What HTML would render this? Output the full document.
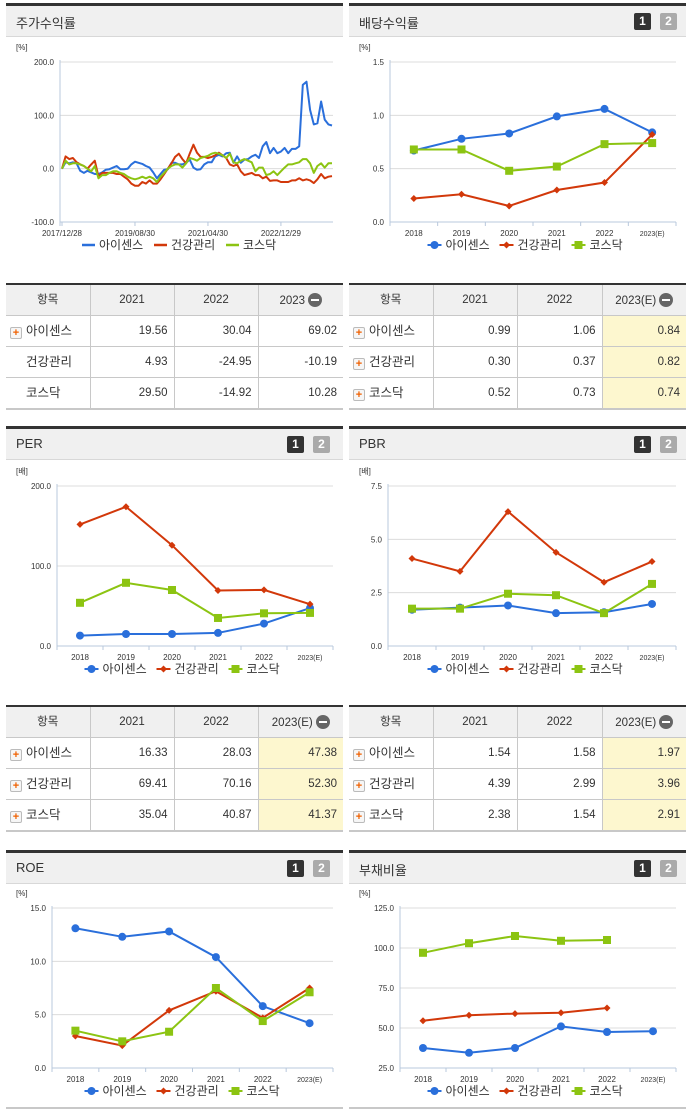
<!DOCTYPE html>
<html><head><meta charset="utf-8">
<style>
body{margin:0;width:691px;height:1115px;background:#fff;position:relative;overflow:hidden;font-family:"Liberation Sans","Noto Sans CJK KR",sans-serif;}
.hdr{position:absolute;height:30px;border-top:3px solid #333;background:#f0f0f0;border-bottom:1px solid #d8d8d8;box-sizing:content-box}
.hdr .t{position:absolute;left:10px;top:7px;font-size:13px;color:#333}
.ib{position:absolute;top:7px;width:17px;height:17px;font-size:12px;font-weight:bold;color:#fff;text-align:center;line-height:17px;border-radius:2px}
table{position:absolute;border-collapse:collapse;font-size:11.5px;color:#333;table-layout:fixed}
table{border-top:2px solid #333;border-bottom:2px solid #c8c8c8}
th{background:#f0f0f0;font-weight:normal;height:30px;padding:0;line-height:14px;border-right:1px solid #c8c8c8;border-bottom:1px solid #c8c8c8}
td{height:30px;padding:0 6px 0 0;line-height:14px;border-right:1px solid #c8c8c8;border-bottom:1px solid #c8c8c8;text-align:right}
tr{height:31px}
th:last-child,td:last-child{border-right:none}
td.n{text-align:left;padding-left:4px;font-size:12.5px}
td.y{background:#fdf7cf}
.pl{display:inline-block;width:10px;height:10px;border:1px solid #bbb;background:#f6f6f6;color:#f06000;font-size:11px;line-height:10px;text-align:center;font-weight:bold;vertical-align:-1px;margin-right:4px;border-radius:2px}
.mi{display:inline-block;width:14px;height:14px;border-radius:7px;background:#666;vertical-align:-3px;margin-left:3px;position:relative}
.mi:after{content:"";position:absolute;left:3px;top:6px;width:8px;height:2px;background:#fff}
</style></head>
<body>
<svg id="cv" width="691" height="1115" style="position:absolute;left:0;top:0"></svg>

<div class="hdr" style="left:6px;top:3px;width:337px"><span class="t">주가수익률</span></div>
<div class="hdr" style="left:349px;top:3px;width:337px"><span class="t">배당수익률</span>
<span class="ib" style="left:285px;background:#333">1</span><span class="ib" style="left:311px;background:#aaa">2</span></div>

<div class="hdr" style="left:6px;top:426px;width:337px"><span class="t">PER</span>
<span class="ib" style="left:281px;background:#333">1</span><span class="ib" style="left:307px;background:#aaa">2</span></div>
<div class="hdr" style="left:349px;top:426px;width:337px"><span class="t">PBR</span>
<span class="ib" style="left:285px;background:#333">1</span><span class="ib" style="left:311px;background:#aaa">2</span></div>

<div class="hdr" style="left:6px;top:850px;width:337px"><span class="t">ROE</span>
<span class="ib" style="left:281px;background:#333">1</span><span class="ib" style="left:307px;background:#aaa">2</span></div>
<div class="hdr" style="left:349px;top:850px;width:337px"><span class="t">부채비율</span>
<span class="ib" style="left:285px;background:#333">1</span><span class="ib" style="left:311px;background:#aaa">2</span></div>
<div style="position:absolute;left:349px;top:1107px;width:337px;height:2px;background:#c8c8c8"></div>
<div style="position:absolute;left:6px;top:1107px;width:337px;height:2px;background:#c8c8c8"></div>

<table style="left:6px;top:283px;width:337px">
<colgroup><col style="width:84px"><col style="width:84px"><col style="width:84px"><col></colgroup>
<tr><th>항목</th><th>2021</th><th>2022</th><th>2023<span class="mi"></span></th></tr>
<tr><td class="n"><span class="pl">+</span>아이센스</td><td>19.56</td><td>30.04</td><td>69.02</td></tr>
<tr><td class="n" style="padding-left:20px">건강관리</td><td>4.93</td><td>-24.95</td><td>-10.19</td></tr>
<tr><td class="n" style="padding-left:20px">코스닥</td><td>29.50</td><td>-14.92</td><td>10.28</td></tr>
</table>
<table style="left:349px;top:283px;width:337px">
<colgroup><col style="width:84px"><col style="width:84px"><col style="width:85px"><col></colgroup>
<tr><th>항목</th><th>2021</th><th>2022</th><th>2023(E)<span class="mi"></span></th></tr>
<tr><td class="n"><span class="pl">+</span>아이센스</td><td>0.99</td><td>1.06</td><td class="y">0.84</td></tr>
<tr><td class="n"><span class="pl">+</span>건강관리</td><td>0.30</td><td>0.37</td><td class="y">0.82</td></tr>
<tr><td class="n"><span class="pl">+</span>코스닥</td><td>0.52</td><td>0.73</td><td class="y">0.74</td></tr>
</table>
<table style="left:6px;top:705px;width:337px">
<colgroup><col style="width:84px"><col style="width:84px"><col style="width:84px"><col></colgroup>
<tr><th>항목</th><th>2021</th><th>2022</th><th>2023(E)<span class="mi"></span></th></tr>
<tr><td class="n"><span class="pl">+</span>아이센스</td><td>16.33</td><td>28.03</td><td class="y">47.38</td></tr>
<tr><td class="n"><span class="pl">+</span>건강관리</td><td>69.41</td><td>70.16</td><td class="y">52.30</td></tr>
<tr><td class="n"><span class="pl">+</span>코스닥</td><td>35.04</td><td>40.87</td><td class="y">41.37</td></tr>
</table>
<table style="left:349px;top:705px;width:337px">
<colgroup><col style="width:84px"><col style="width:84px"><col style="width:85px"><col></colgroup>
<tr><th>항목</th><th>2021</th><th>2022</th><th>2023(E)<span class="mi"></span></th></tr>
<tr><td class="n"><span class="pl">+</span>아이센스</td><td>1.54</td><td>1.58</td><td class="y">1.97</td></tr>
<tr><td class="n"><span class="pl">+</span>건강관리</td><td>4.39</td><td>2.99</td><td class="y">3.96</td></tr>
<tr><td class="n"><span class="pl">+</span>코스닥</td><td>2.38</td><td>1.54</td><td class="y">2.91</td></tr>
</table>

<script>
const years = ["2018","2019","2020","2021","2022","2023(E)"];
const seriesNames = ["아이센스","건강관리","코스닥"];
const stockTicks = ["2017/12/28","2019/08/30","2021/04/30","2022/12/29"];
const stockTickMonths = [0,20,40,60];
const stockBlue = [0,12,10,12,10,-4,-8,-4,-7,-10,-10,-7,-2,-1,2,5,-1,-1,0,8,13,11,9,5,2,-7,-18,-10,-2,-1,11,11,8,8,11,17,2,-2,-1,8,12,12,23,26,23,29,30,11,23,11,17,18,23,26,20,42,50,29,39,29,32,39,29,37,37,42,157,163,110,83,85,126,92,83,81];
const stockRed = [0,23,18,20,12,8,5,0,8,15,-15,-8,-8,-8,-8,-10,-10,-15,-20,-28,-32,-32,-25,-28,-22,-28,-28,-20,-10,0,10,22,28,18,10,28,45,30,22,22,20,22,25,30,25,20,8,5,8,-5,-12,-10,-8,-12,-12,-18,-15,-23,-22,-22,-25,-25,-25,-22,-22,-18,-22,-20,-22,-27,-20,-10,-18,-15,-14];
const stockGreen = [0,15,8,10,10,8,5,0,-5,5,-18,-12,-12,-8,-5,-5,-8,-10,-15,-18,-20,-18,-15,-18,-15,-18,-25,-15,-8,0,5,8,8,2,10,20,18,15,20,22,24,28,30,28,25,20,28,12,10,15,18,15,12,-5,2,2,-12,-10,-5,-12,-5,2,8,8,10,12,18,18,10,-8,5,10,2,10,10];
const stockYTicks = [200,100,0,-100];

const divBlue = [0.67,0.78,0.83,0.99,1.06,0.84];
const divRed = [0.22,0.26,0.15,0.30,0.37,0.82];
const divGreen = [0.68,0.68,0.48,0.52,0.73,0.74];
const divYTicks = [1.5,1.0,0.5,0.0];
const perBlue = [13,15,15,16.33,28.03,47.38];
const perRed = [152,174,126,69.41,70.16,52.3];
const perGreen = [54,79,70,35.04,40.87,41.37];
const perYTicks = [200,100,0];
const pbrBlue = [1.7,1.8,1.9,1.54,1.58,1.97];
const pbrRed = [4.1,3.5,6.3,4.39,2.99,3.96];
const pbrGreen = [1.75,1.75,2.45,2.38,1.54,2.91];
const pbrYTicks = [7.5,5.0,2.5,0.0];
const roeBlue = [13.1,12.3,12.8,10.4,5.8,4.2];
const roeRed = [3.0,2.1,5.4,7.2,4.7,7.5];
const roeGreen = [3.5,2.5,3.4,7.5,4.4,7.1];
const roeYTicks = [15,10,5,0];
const debtBlue = [37.5,34.5,37.5,51,47.5,48];
const debtRed = [54.5,58,59,59.5,62.5,null];
const debtGreen = [97,103,107.5,104.5,105,null];
const debtYTicks = [125,100,75,50,25];

const COL = ["#2a6fdb","#d2380a","#8cc412"];
const NS="http://www.w3.org/2000/svg";
const cv=document.getElementById('cv');
function mk(tag,attrs,parent){const e=document.createElementNS(NS,tag);for(const k in attrs)e.setAttribute(k,attrs[k]);(parent||cv).appendChild(e);return e;}
function txt(x,y,s,size,anchor,fill,parent){const t=mk('text',{x:x,y:y,'font-size':size,'text-anchor':anchor,fill:fill,'font-family':'"Liberation Sans","Noto Sans CJK KR",sans-serif'},parent);t.textContent=s;return t;}

function frame(name,px,L,R,T,B,min,max,ticks,dec,unit){
  const g=mk('g',{});
  
  
  const y=v=>B-(v-min)/(max-min)*(B-T);
  const u=txt(px+10,T-12,unit,8,'start','#333',g);
  
  
  ticks.forEach(v=>{
    if(v!==min){const l=mk('line',{x1:L,x2:R,y1:y(v),y2:y(v),stroke:'#dcdcdc','stroke-width':1},g);
    
    }
    const t=txt(L-6,y(v)+3,v.toFixed(dec),8,'end','#333',g);
    
    
  });
  mk('line',{x1:L,x2:L,y1:T-2,y2:B+4,stroke:'#b8c8dc'},g);
  mk('line',{x1:L,x2:R,y1:B,y2:B,stroke:'#b8c8dc'},g);
  return {g,y};
}
function legend(g,cx,ly){
  const w=[62,62,50];let x=cx-95;
  seriesNames.forEach((n,i)=>{
    const e=mk('g',{},g);
    
    
    mk('line',{x1:x,x2:x+14,y1:ly,y2:ly,stroke:COL[i],'stroke-width':2},e);
    marker(e,x+7,ly,i);
    txt(x+18,ly+4,n,12,'start','#333',e);
    x+=w[i]+10;
  });
}
function marker(g,x,y,i){
  if(i===0) return mk('circle',{cx:x,cy:y,r:4,fill:COL[0]},g);
  if(i===1) return mk('path',{d:`M${x} ${y-3.5}L${x+3.5} ${y}L${x} ${y+3.5}L${x-3.5} ${y}Z`,fill:COL[1]},g);
  return mk('rect',{x:x-4,y:y-4,width:8,height:8,fill:COL[2]},g);
}
function catChart(name,px,L,R,T,B,min,max,ticks,dec,unit,data){
  const f=frame(name,px,L,R,T,B,min,max,ticks,dec,unit);
  const bw=(R-L)/years.length;
  const x=i=>L+bw*(i+0.5);
  years.forEach((yr,i)=>{
    mk('line',{x1:L+bw*(i+1),x2:L+bw*(i+1),y1:B,y2:B+4,stroke:'#b8c8dc'},f.g);
    const t=txt(x(i),B+14,yr,yr.length>4?7:8,'middle','#333',f.g);
    
    
  });
  data.forEach((arr,si)=>{
    const s=mk('g',{},f.g);
    
    
    let d='';
    arr.forEach((v,i)=>{if(v==null)return;d+=(d?'L':'M')+x(i)+' '+f.y(v);});
    mk('path',{d:d,fill:'none',stroke:COL[si],'stroke-width':2},s);
    arr.forEach((v,i)=>{if(v==null)return;const m=marker(s,x(i),f.y(v),si);
      
      });
  });
  legend(f.g,(px+px+337)/2+5,B+23);
}
(function(){
  const L=60,R=333,T=62,B=222;
  const f=frame('stock-return-chart',6,L,R,T,B,-100,200,stockYTicks,1,'[%]');
  const n=stockBlue.length;
  const x=i=>62+i*(R-1-62)/(n-1);
  stockTicks.forEach((s,k)=>{
    const xx=x(stockTickMonths[k]);
    mk('line',{x1:xx,x2:xx,y1:B,y2:B+4,stroke:'#b8c8dc'},f.g);
    const t=txt(xx,B+14,s,8,'middle','#333',f.g);
    
    
  });
  [stockBlue,stockRed,stockGreen].forEach((arr,si)=>{
    const d=arr.map((v,i)=>(i?'L':'M')+x(i).toFixed(1)+' '+f.y(v).toFixed(1)).join('');
    const p=mk('path',{d:d,fill:'none',stroke:COL[si],'stroke-width':2,'stroke-linejoin':'round'},f.g);
    
    
  });
  const lg=mk('g',{},f.g);
  let xx=82;
  seriesNames.forEach((nm,i)=>{
    const e=mk('g',{},lg);
    
    
    mk('line',{x1:xx,x2:xx+13,y1:245,y2:245,stroke:COL[i],'stroke-width':2.5},e);
    txt(xx+17,249,nm,12,'start','#333',e);
    xx+=[72,72,60][i];
  });
})();
catChart('dividend-chart',349,390,676,62,222,0,1.5,divYTicks,1,'[%]',[divBlue,divRed,divGreen]);
catChart('per-chart',6,57,333,486,646,0,200,perYTicks,1,'[배]',[perBlue,perRed,perGreen]);
catChart('pbr-chart',349,388,676,486,646,0,7.5,pbrYTicks,1,'[배]',[pbrBlue,pbrRed,pbrGreen]);
catChart('roe-chart',6,52,333,908,1068,0,15,roeYTicks,1,'[%]',[roeBlue,roeRed,roeGreen]);
catChart('debt-ratio-chart',349,400,676,908,1068,25,125,debtYTicks,1,'[%]',[debtBlue,debtRed,debtGreen]);
</script>
</body></html>
